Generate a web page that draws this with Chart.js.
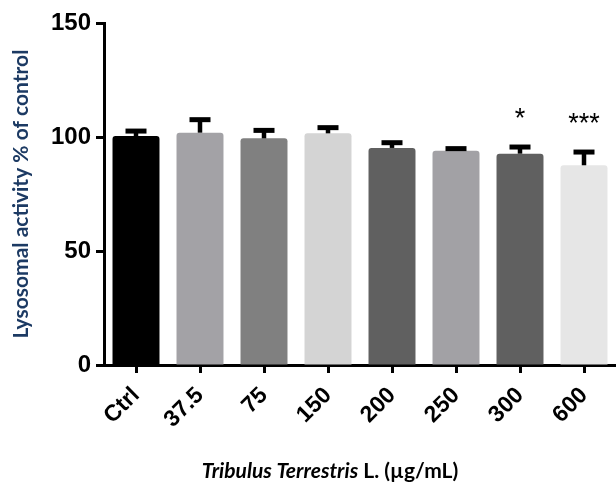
<!DOCTYPE html>
<html>
<head>
<meta charset="utf-8">
<script src="https://cdn.jsdelivr.net/npm/chart.js@4/dist/chart.umd.min.js"></script>
<style>
  html, body { margin: 0; padding: 0; background: #fff; }
  #wrap { width: 616px; height: 482px; position: relative; }
</style>
</head>
<body>
<div id="wrap"><canvas id="chart"></canvas></div>
<script>
// data
const doses = ["Ctrl", "37.5", "75", "150", "200", "250", "300", "600"];
const means = [100.4, 101.9, 99.4, 101.6, 95.2, 94.0, 92.7, 87.6];
const sems = [2.2, 5.7, 3.5, 2.5, 2.3, 0.9, 2.9, 5.8];
const sigMarks = ["", "", "", "", "", "", "*", "***"];
const yTicks = [0, 50, 100, 150];

const barColors = ["#000000", "#a3a2a6", "#808080", "#d4d4d4", "#606060", "#a2a1a5", "#606060", "#e6e6e6"];

// upper error bars + significance stars
const errorBars = {
  id: "errorBars",
  afterDatasetsDraw(chart) {
    const ctx = chart.ctx;
    const y = chart.scales.y;
    const meta = chart.getDatasetMeta(0);
    ctx.save();
    ctx.strokeStyle = "#000";
    meta.data.forEach((bar, i) => {
      const top = y.getPixelForValue(means[i] + sems[i]);
      ctx.lineWidth = 4.5;
      ctx.beginPath();
      ctx.moveTo(bar.x, bar.y);
      ctx.lineTo(bar.x, top);
      ctx.stroke();
      ctx.lineWidth = 5;
      ctx.beginPath();
      ctx.moveTo(bar.x - 10.5, top);
      ctx.lineTo(bar.x + 10.5, top);
      ctx.stroke();
      if (sigMarks[i]) {
        ctx.fillStyle = "#000";
        ctx.font = "27px 'Liberation Sans', Arial, sans-serif";
        ctx.textAlign = "center";
        ctx.textBaseline = "alphabetic";
        ctx.fillText(sigMarks[i], bar.x, top - 20);
      }
    });
    ctx.restore();
  }
};

// x title with italic species name
const xTitle = {
  id: "xTitle",
  afterDraw(chart) {
    const ctx = chart.ctx;
    const parts = [
      { t: "Tribulus Terrestris", f: "italic bold 21px Lato, sans-serif" },
      { t: " L. (\u00b5g/mL)", f: "bold 21px Lato, sans-serif" }
    ];
    ctx.save();
    ctx.fillStyle = "#000";
    ctx.textBaseline = "alphabetic";
    ctx.textAlign = "left";
    let total = 0;
    parts.forEach(p => { ctx.font = p.f; p.w = ctx.measureText(p.t).width; total += p.w; });
    let x = 330 - total / 2;
    parts.forEach(p => { ctx.font = p.f; ctx.fillText(p.t, x, 478); x += p.w; });
    ctx.restore();
  }
};

new Chart(document.getElementById("chart"), {
  type: "bar",
  data: {
    labels: doses,
    datasets: [{
      data: means,
      backgroundColor: barColors,
      borderRadius: 3,
      borderSkipped: "bottom",
      barPercentage: 1,
      categoryPercentage: 0.734
    }]
  },
  options: {
    responsive: true,
    maintainAspectRatio: false,
    animation: false,
    layout: { padding: { top: 23, right: 0, bottom: 0, left: 0 } },
    plugins: { legend: { display: false }, tooltip: { enabled: false } },
    scales: {
      x: {
        afterFit: (s) => { s.height = 117; },
        grid: { display: true, drawOnChartArea: false, offset: false, tickLength: 8, tickWidth: 3, tickColor: "#000" },
        border: { display: true, color: "#000", width: 3 },
        ticks: {
          color: "#000",
          minRotation: 45,
          maxRotation: 45,
          padding: 9,
          font: { family: "'Liberation Sans', Arial, sans-serif", size: 23, weight: "bold" }
        }
      },
      y: {
        min: 0,
        max: 150,
        afterFit: (s) => { s.width = 104; },
        afterBuildTicks: (s) => { s.ticks = yTicks.map(v => ({ value: v })); },
        grid: { display: true, drawOnChartArea: false, tickLength: 8, tickWidth: 3, tickColor: "#000" },
        border: { display: true, color: "#000", width: 3 },
        ticks: {
          color: "#000",
          padding: 5,
          font: { family: "'Liberation Sans', Arial, sans-serif", size: 24, weight: "bold" }
        },
        title: {
          display: true,
          text: "Lysosomal activity % of control",
          color: "#1c3a63",
          padding: { top: 9, bottom: 0 },
          font: { family: "Lato, sans-serif", size: 21, weight: "bold" }
        }
      }
    }
  },
  plugins: [errorBars, xTitle]
});
</script>
</body>
</html>
